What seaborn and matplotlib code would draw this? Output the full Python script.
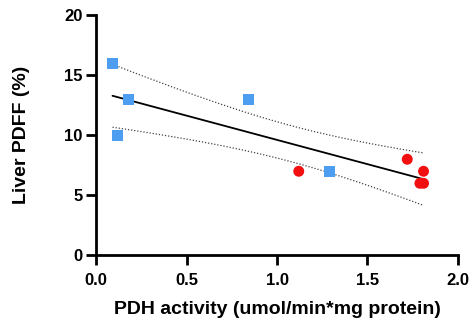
import numpy as np
import pandas as pd
import matplotlib
matplotlib.use("Agg")
import matplotlib.pyplot as plt
import seaborn as sns

# Data
blue_x = [0.09, 0.18, 0.12, 0.84, 1.29]
blue_y = [16, 13, 10, 13, 7]
red_x = [1.12, 1.72, 1.81, 1.79, 1.81]
red_y = [7, 8, 7, 6, 6]
x_ticks = [0.0, 0.5, 1.0, 1.5, 2.0]
y_ticks = [0, 5, 10, 15, 20]

sns.set_theme(style="ticks")
plt.rcParams['font.family'] = ['Liberation Sans', 'DejaVu Sans']

df = pd.DataFrame({
    "x": blue_x + red_x,
    "y": blue_y + red_y,
    "g": ["blue"] * len(blue_x) + ["red"] * len(red_x),
})

fig = plt.figure(figsize=(4.74, 3.22), dpi=100)
ax = fig.add_axes([0.203, 0.207, 0.763, 0.746])

# regression + 95% CI
x = np.array(df["x"], float)
y = np.array(df["y"], float)
n = len(x)
b, a = np.polyfit(x, y, 1)
xs = np.linspace(x.min(), x.max(), 100)
ys = a + b * xs
resid = y - (a + b * x)
s = np.sqrt(np.sum(resid ** 2) / (n - 2))
sxx = np.sum((x - x.mean()) ** 2)
t = 2.306
half = t * s * np.sqrt(1 / n + (xs - x.mean()) ** 2 / sxx)
fit = pd.DataFrame({"x": xs, "y": ys, "lo": ys - half, "hi": ys + half})

sns.lineplot(data=fit, x="x", y="y", color="black", lw=1.3, ax=ax, zorder=2)
sns.lineplot(data=fit, x="x", y="lo", color="#444444", lw=0.9, ls=(0, (1, 1.5)), ax=ax, zorder=2)
sns.lineplot(data=fit, x="x", y="hi", color="#444444", lw=0.9, ls=(0, (1, 1.5)), ax=ax, zorder=2)

sns.scatterplot(data=df, x="x", y="y", hue="g", style="g",
                palette={"blue": "#4d9ef0", "red": "#f20f0f"},
                markers={"blue": "s", "red": "o"},
                s=62, linewidth=0, legend=False, ax=ax, zorder=3)

ax.set_xlim(0, 2.0)
ax.set_ylim(0, 20)
ax.set_xticks(x_ticks)
ax.set_xticklabels([f"{v:.1f}" for v in x_ticks])
ax.set_yticks(y_ticks)
ax.set_yticklabels([str(v) for v in y_ticks])
ax.set_xlabel("PDH activity (umol/min*mg protein)", fontsize=14, fontweight="bold",
              color="black", labelpad=9)
ax.set_ylabel("Liver PDFF (%)", fontsize=14, fontweight="bold", color="black", labelpad=24)
for lab in ax.get_xticklabels() + ax.get_yticklabels():
    lab.set_fontweight("bold")
    lab.set_fontsize(12)
for sp in ["top", "right"]:
    ax.spines[sp].set_visible(False)
for sp in ["left", "bottom"]:
    ax.spines[sp].set_linewidth(2.0)
    ax.spines[sp].set_color("black")
ax.tick_params(width=2.0, length=7, color="black", labelcolor="black")
ax.tick_params(axis="x", pad=6)
ax.tick_params(axis="y", pad=3)

fig.savefig("out.png", dpi=100)
